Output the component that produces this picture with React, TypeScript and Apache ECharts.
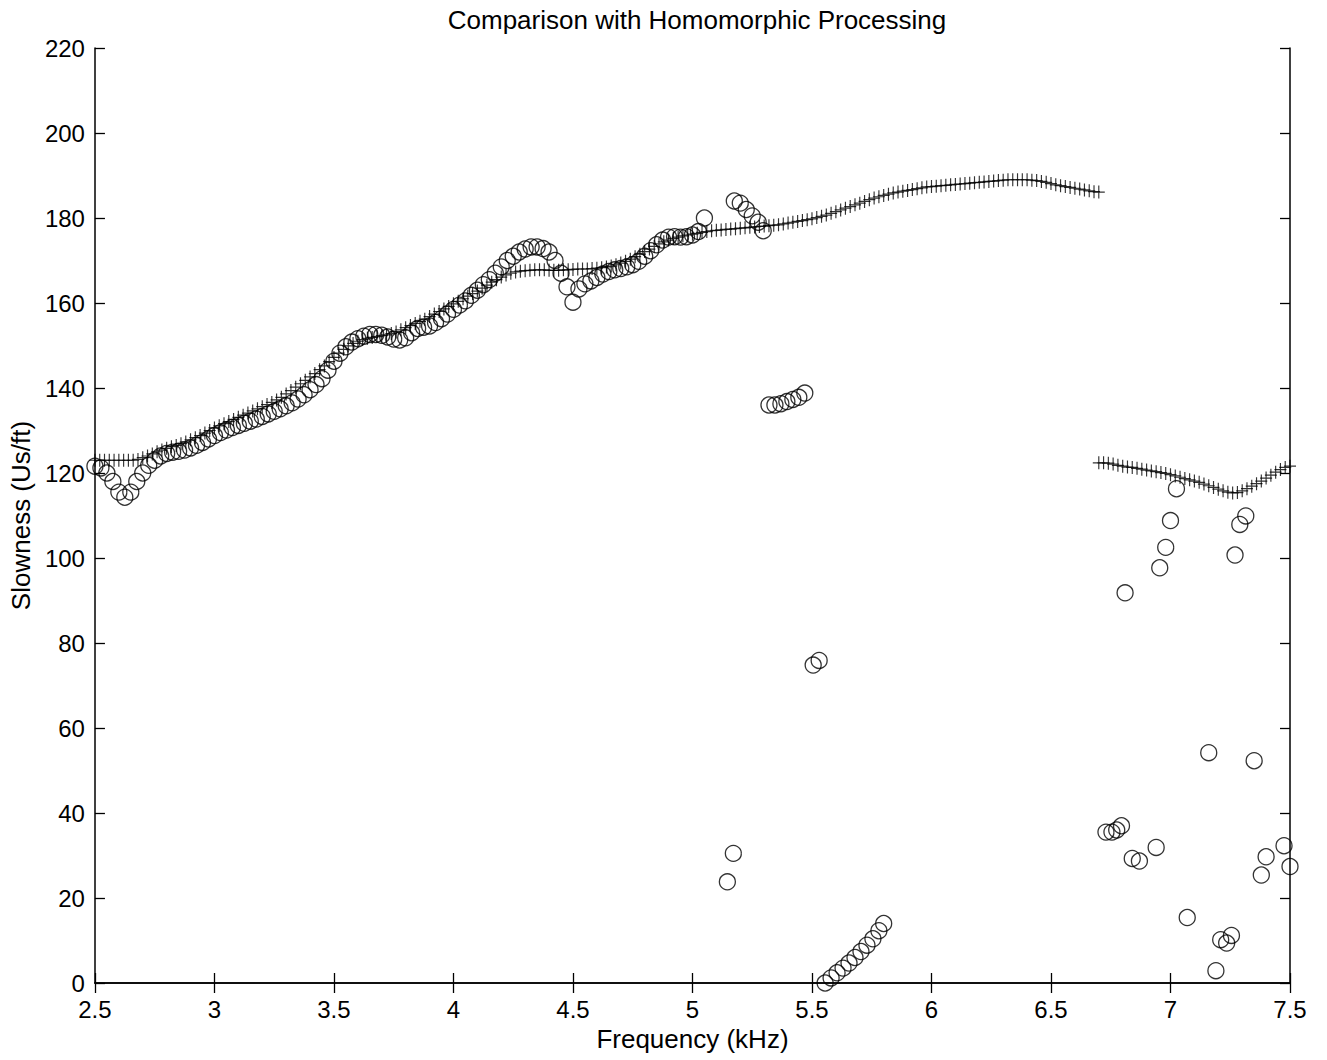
import React, { useEffect, useRef } from "react";
import * as echarts from "echarts";

// Slowness picked by the semblance method, sampled every 0.02 kHz from 2.50 kHz
const SEMB_F0 = 2.5;
const SEMB_DF = 0.02;
const sembUpper = [
  123, 123, 123, 123, 123, 123, 123, 123, 123, 123.2,
  123.6, 124, 124.5, 125, 125.4, 125.8, 126.2, 126.5, 126.9, 127.3,
  127.8, 128.3, 128.8, 129.4, 130, 130.6, 131.1, 131.6, 132.1, 132.6,
  133.1, 133.6, 134.1, 134.6, 135.1, 135.6, 136.1, 136.6, 137.2, 137.8,
  138.6, 139.4, 140.2, 141, 141.8, 142.6, 143.4, 144.3, 145.2, 146.2,
  147.2, 148.2, 149.1, 149.9, 150.5, 151, 151.4, 151.7, 151.9, 152.1,
  152.3, 152.5, 152.8, 153.2, 153.7, 154.2, 154.7, 155.2, 155.7, 156.2,
  156.8, 157.4, 158, 158.6, 159.2, 159.8, 160.4, 161, 161.6, 162.2,
  162.8, 163.5, 164.2, 164.9, 165.5, 166.1, 166.6, 167, 167.3, 167.5,
  167.6, 167.7, 167.8, 167.8, 167.8, 167.7, 167.7, 167.7, 167.8, 167.8,
  167.9, 168, 168, 168, 168.1, 168.2, 168.3, 168.5, 168.7, 169,
  169.4, 169.8, 170.3, 170.9, 171.5, 172.1, 172.7, 173.3, 173.9, 174.4,
  174.8, 175.2, 175.5, 175.8, 176, 176.2, 176.4, 176.6, 176.8, 177,
  177.1, 177.2, 177.3, 177.4, 177.5, 177.6, 177.7, 177.8, 177.9, 178,
  178.1, 178.2, 178.3, 178.4, 178.6, 178.8, 179, 179.2, 179.4, 179.6,
  179.8, 180.1, 180.4, 180.7, 181.1, 181.5, 181.9, 182.3, 182.7, 183.1,
  183.5, 183.9, 184.3, 184.7, 185, 185.3, 185.6, 185.9, 186.1, 186.3,
  186.5, 186.7, 186.9, 187.1, 187.3, 187.4, 187.5, 187.6, 187.7, 187.8,
  187.9, 188, 188.1, 188.2, 188.3, 188.4, 188.5, 188.6, 188.7, 188.8,
  188.9, 189, 189, 189, 189, 189, 188.9, 188.8, 188.6, 188.4,
  188.1, 187.8, 187.6, 187.4, 187.2, 187, 186.8, 186.6, 186.4, 186.2,
  186.1,
];

// Second semblance branch, every 0.02 kHz from 6.70 kHz
const SEMB2_F0 = 6.7;
const sembLower = [
  122.4, 122.4, 122.3, 122.1, 121.8, 121.6, 121.4, 121.3, 121.1, 120.9,
  120.7, 120.5, 120.3, 120.1, 119.9, 119.6, 119.3, 119, 118.7, 118.4,
  118.1, 117.8, 117.4, 117, 116.6, 116.2, 115.8, 115.5, 115.3, 115.4,
  115.8, 116.3, 116.9, 117.5, 118.1, 118.8, 119.5, 120.2, 120.8, 121.3,
  121.6,
];

// Homomorphic estimate, every 0.025 kHz from 2.50 kHz
const HOMO_F0 = 2.5;
const HOMO_DF = 0.025;
const homoMain = [
  121.6, 121.2, 120, 118, 115.5, 114.3, 115.5, 118, 120, 121.8,
  123, 124, 124.6, 124.9, 125.1, 125.4, 125.9, 126.5, 127.2, 128,
  128.8, 129.5, 130.1, 130.7, 131.2, 131.7, 132.2, 132.7, 133.3, 133.9,
  134.5, 135.1, 135.8, 136.5, 137.4, 138.4, 139.6, 140.8, 142.2, 144.2,
  146.3, 148.2, 149.7, 150.8, 151.6, 152.2, 152.6, 152.6, 152.4, 152,
  151.5, 151.3, 151.8, 153, 154, 154.3, 154.6, 155.4, 156.3, 157.4,
  158.5, 159.5, 160.5, 161.8, 163, 164.3, 165.5, 167, 168.5, 170,
  171, 172, 172.7, 173.2, 173.2, 172.8, 172, 170, 167, 163.8,
  160.2, 163.3, 164.5, 165.2, 166, 166.8, 167.4, 167.8, 168.1, 168.5,
  169, 169.8, 171, 172.3, 173.7, 174.8, 175.5, 175.6, 175.5, 175.6,
  176, 176.8, 180,
];

// Isolated homomorphic picks [frequency kHz, slowness us/ft]
const homoScattered: [number, number][] = [
  [5.146, 23.8], [5.171, 30.5],
  [5.175, 184], [5.2, 183.5], [5.225, 182], [5.25, 180.5], [5.275, 179], [5.296, 177],
  [5.32, 136], [5.345, 136], [5.37, 136.3], [5.395, 136.8], [5.42, 137.3], [5.445, 137.8], [5.47, 138.8],
  [5.505, 74.8], [5.53, 75.9],
  [5.555, 0], [5.58, 1.2], [5.605, 2.4], [5.63, 3.5], [5.655, 4.7], [5.68, 6],
  [5.705, 7.4], [5.73, 8.9], [5.755, 10.4], [5.78, 12.3], [5.8, 14],
  [6.73, 35.5], [6.755, 35.5], [6.775, 36], [6.795, 37],
  [6.81, 91.8],
  [6.84, 29.3], [6.87, 28.7],
  [6.94, 31.9],
  [6.955, 97.7], [6.98, 102.5], [7.0, 108.8], [7.025, 116.3],
  [7.07, 15.4],
  [7.16, 54.2],
  [7.19, 2.9], [7.21, 10.2], [7.235, 9.4], [7.255, 11.2],
  [7.27, 100.7], [7.29, 107.9], [7.315, 109.9],
  [7.35, 52.3],
  [7.38, 25.4], [7.4, 29.7], [7.475, 32.3], [7.5, 27.4],
];

const X_TICKS_MIN = 2.5;
const X_TICKS_MAX = 7.5;
const X_STEP = 0.5;
const Y_TICKS_MIN = 0;
const Y_TICKS_MAX = 220;
const Y_STEP = 20;

const FONT = "'Liberation Sans', Arial, Helvetica, sans-serif";
const PLUS = "path://M0 6.5H12M6 0V13";

export default function App() {
  const ref = useRef<HTMLDivElement>(null);

  useEffect(() => {
    document.body.style.margin = "0";
    if (!ref.current) return;
    const chart = echarts.init(ref.current, undefined, { renderer: "svg" });

    const sembUpperData = sembUpper.map((s, i) => [SEMB_F0 + i * SEMB_DF, s]);
    const sembLowerData = sembLower.map((s, i) => [SEMB2_F0 + i * SEMB_DF, s]);
    const homoMainData = homoMain.map((s, i) => [HOMO_F0 + i * HOMO_DF, s]);

    const axisLine = { show: true, lineStyle: { color: "#000", width: 1.5 } };
    const tickIn = { show: true, inside: true, length: 10, lineStyle: { color: "#000", width: 1.3 } };
    const tickLabel = { color: "#000", fontSize: 24, fontFamily: FONT };
    const nameLabel = { color: "#000", fontSize: 26, fontFamily: FONT };

    const plusStyle = {
      type: "scatter" as const,
      symbol: PLUS,
      symbolSize: [12, 13],
      clip: false,
      itemStyle: { color: "none", borderColor: "#000", borderWidth: 1.2 },
    };

    const circleStyle = {
      type: "scatter" as const,
      symbol: "circle",
      symbolSize: 16,
      clip: false,
      itemStyle: { color: "rgba(0,0,0,0)", borderColor: "#000", borderWidth: 1.3 },
    };

    chart.setOption({
      animation: false,
      backgroundColor: "#fff",
      title: {
        text: "Comparison with Homomorphic Processing",
        left: 692,
        textAlign: "center",
        top: 2,
        textStyle: { color: "#000", fontSize: 26, fontWeight: "normal", fontFamily: FONT },
      },
      grid: { left: 92, top: 48, width: 1198, height: 935 },
      xAxis: [
        {
          type: "value",
          min: X_TICKS_MIN,
          max: X_TICKS_MAX,
          interval: X_STEP,
          position: "bottom",
          name: "Frequency (kHz)",
          nameLocation: "middle",
          nameGap: 43,
          nameTextStyle: nameLabel,
          axisLine,
          axisTick: tickIn,
          axisLabel: { ...tickLabel, margin: 14, formatter: (v: number) => String(v) },
          splitLine: { show: false },
        },
        {
          type: "value",
          min: X_TICKS_MIN,
          max: X_TICKS_MAX,
          interval: X_STEP,
          position: "top",
          axisLine,
          axisTick: tickIn,
          axisLabel: { show: false },
          splitLine: { show: false },
        },
      ],
      yAxis: [
        {
          type: "value",
          min: Y_TICKS_MIN,
          max: Y_TICKS_MAX,
          interval: Y_STEP,
          position: "left",
          name: "Slowness (Us/ft)",
          nameLocation: "middle",
          nameGap: 58,
          nameTextStyle: nameLabel,
          axisLine,
          axisTick: tickIn,
          axisLabel: { ...tickLabel, margin: 10 },
          splitLine: { show: false },
        },
        {
          type: "value",
          min: Y_TICKS_MIN,
          max: Y_TICKS_MAX,
          interval: Y_STEP,
          position: "right",
          axisLine,
          axisTick: tickIn,
          axisLabel: { show: false },
          splitLine: { show: false },
        },
      ],
      series: [
        { ...plusStyle, name: "Semblance", data: sembUpperData },
        { ...plusStyle, name: "Semblance (high band)", data: sembLowerData },
        { ...circleStyle, name: "Homomorphic", data: homoMainData },
        { ...circleStyle, name: "Homomorphic (isolated)", data: homoScattered },
      ],
    });

    return () => chart.dispose();
  }, []);

  return <div ref={ref} style={{ width: 1327, height: 1060 }} />;
}
